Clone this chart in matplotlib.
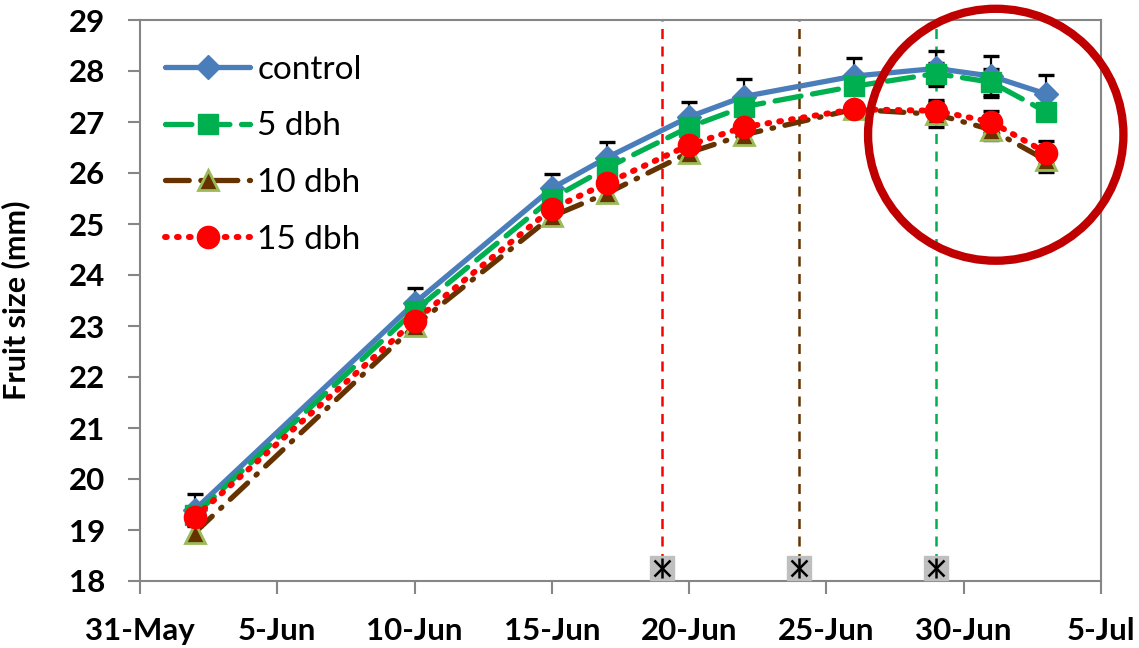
import matplotlib
matplotlib.use("Agg")
import matplotlib.pyplot as plt
import matplotlib.dates as mdates
from matplotlib.patches import Ellipse
import numpy as np
import datetime as dt

plt.rcParams['font.family'] = ['Lato', 'DejaVu Sans']

dates = ["2024-06-02", "2024-06-10", "2024-06-15", "2024-06-17", "2024-06-20",
         "2024-06-22", "2024-06-26", "2024-06-29", "2024-07-01", "2024-07-03"]
control = [19.40, 23.45, 25.70, 26.30, 27.10, 27.50, 27.90, 28.05, 27.90, 27.55]
dbh5    = [19.30, 23.30, 25.50, 26.10, 26.90, 27.30, 27.70, 27.95, 27.78, 27.20]
dbh10   = [18.95, 23.00, 25.15, 25.60, 26.40, 26.75, 27.25, 27.15, 26.85, 26.25]
dbh15   = [19.25, 23.10, 25.30, 25.80, 26.55, 26.90, 27.25, 27.22, 27.00, 26.40]
err_control = [0.30, 0.30, 0.28, 0.30, 0.30, 0.35, 0.35, 0.35, 0.40, 0.38]
err_5   = [0.12, 0.12, 0.12, 0.12, 0.12, 0.12, 0.15, 0.20, 0.25, 0.15]
err_10  = [0.12, 0.12, 0.12, 0.12, 0.12, 0.12, 0.12, 0.25, 0.20, 0.23]
err_15  = [0.12, 0.12, 0.12, 0.12, 0.12, 0.12, 0.12, 0.22, 0.22, 0.23]
labels = ["control", "5 dbh", "10 dbh", "15 dbh"]
event_dates = ["2024-06-19", "2024-06-24", "2024-06-29"]
event_colors = ["#FF0000", "#663300", "#00B050"]
event_y = 18.25

x = [dt.datetime.strptime(d, "%Y-%m-%d") for d in dates]
ex = [dt.datetime.strptime(d, "%Y-%m-%d") for d in event_dates]

fig = plt.figure(figsize=(11.39, 6.48), dpi=100)
ax = fig.add_axes([140/1139, 1-581/648, (1101-140)/1139, (581-20)/648])

# vertical event lines
for d, c in zip(ex, event_colors):
    ax.axvline(d, color=c, lw=1.8, ls=(0, (4, 3)), zorder=1)

styles = [
    dict(color="#4A7EBB", ls="-", marker="D", ms=12, mfc="#4A7EBB", mec="#4A7EBB", lw=3.8),
    dict(color="#00B050", ls=(0, (5, 2.2)), marker="s", ms=15, mfc="#00B050", mec="#00B050", lw=3.8),
    dict(color="#663300", ls=(0, (4.5, 2.2, 0.3, 2.2)), marker="^", ms=14, mfc="#663300", mec="#9BBB59", mew=2, lw=3.8),
    dict(color="#FF0000", ls=(0, (0.3, 1.7)), marker="o", ms=16, mfc="#FF0000", mec="#FF0000", lw=4.3),
]
series = [control, dbh5, dbh10, dbh15]
errs = [err_control, err_5, err_10, err_15]

for i, (s, e) in enumerate(zip(series, errs)):
    ax.errorbar(x, s, yerr=e, fmt="none", ecolor="black", elinewidth=1.6,
                capsize=6, capthick=2.4, zorder=2)
for i, (s, st, lab) in enumerate(zip(series, styles, labels)):
    ax.plot(x, s, label=lab, zorder=3 + i, solid_capstyle="round",
            dash_capstyle="round", **st)

# event markers at bottom
ax.plot(ex, [event_y]*len(ex), ls="none", marker="s", ms=17, mfc="#BFBFBF",
        mec="#BFBFBF", zorder=12, clip_on=False)
ax.plot(ex, [event_y]*len(ex), ls="none", marker="x", ms=12, mew=1.8,
        color="black", zorder=13, clip_on=False)
ax.plot(ex, [event_y]*len(ex), ls="none", marker="|", ms=15, mew=1.8,
        color="black", zorder=13, clip_on=False)

ax.set_xlim(dt.datetime(2024, 5, 31), dt.datetime(2024, 7, 5))
ax.set_ylim(18, 29)
ax.set_yticks(np.arange(18, 30, 1))
ticks = [dt.datetime(2024, 5, 31) + dt.timedelta(days=5*k) for k in range(8)]
ax.set_xticks(ticks)
ax.xaxis.set_major_formatter(mdates.DateFormatter("%-d-%b"))

for sp in ax.spines.values():
    sp.set_color("#868686")
    sp.set_linewidth(1.5)
ax.tick_params(axis="both", direction="out", length=9, width=1.5, color="#868686",
               labelsize=22.5)
ax.tick_params(axis="x", pad=17)
ax.tick_params(axis="y", pad=16)
for t in ax.get_xticklabels() + ax.get_yticklabels():
    t.set_fontweight("bold")

ax.set_ylabel("Fruit size (mm)", fontsize=22, fontweight="bold")
ax.yaxis.set_label_coords(-110/961, 0.5)

leg = ax.legend(loc="upper left", bbox_to_anchor=(0.0, 0.983), frameon=False,
                fontsize=24, handlelength=2.55, labelspacing=0.8,
                handletextpad=0.22, borderaxespad=0.35)

# annotation circle
circ = Ellipse((mdates.date2num(dt.datetime(2024, 7, 1, 4)), 26.75),
               width=9.3, height=4.94, fill=False, ec="#C00000", lw=6,
               zorder=20, clip_on=False)
ax.add_patch(circ)

fig.savefig("out.png", dpi=100)
